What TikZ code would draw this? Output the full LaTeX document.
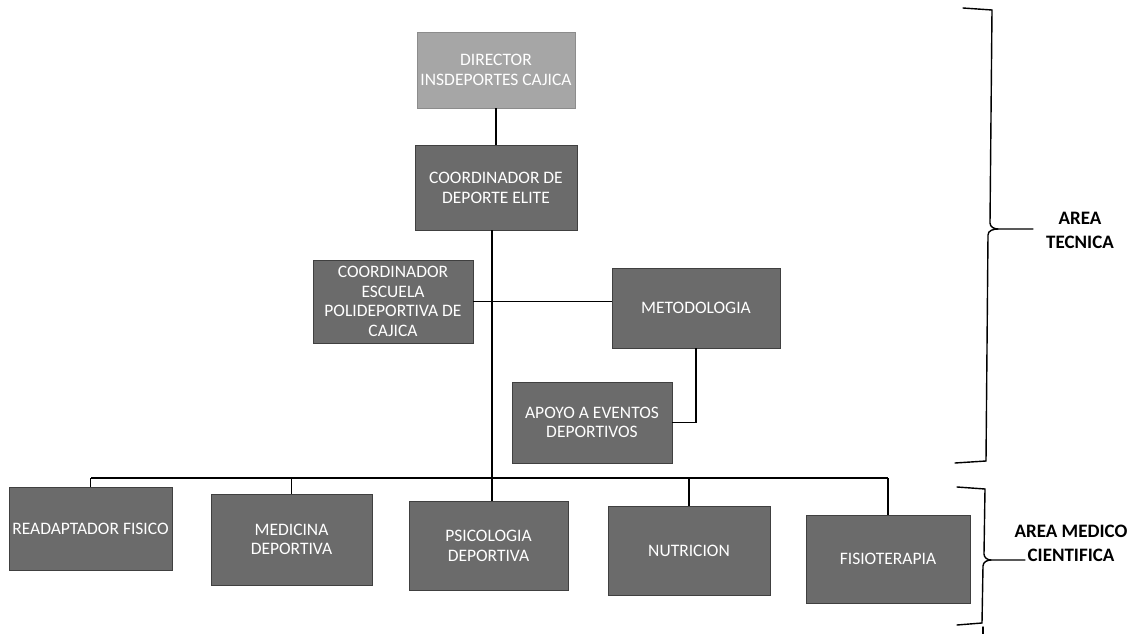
\documentclass[tikz,border=0pt]{standalone}
\usepackage{fontspec}
\setmainfont{Carlito}
\begin{document}
\begin{tikzpicture}[x=1pt,y=-1pt,
  box/.style={draw=black!75,line width=0.8pt,fill=black!58,text=white,align=center,inner sep=1pt,
    font=\fontsize{17.5}{19.5}\selectfont},
  lightbox/.style={box,fill=black!35,draw=black!45},
  conn/.style={draw=black,line width=1.2pt},
  brace/.style={draw=black,line width=1.4pt,line cap=round},
  lbl/.style={font=\bfseries\fontsize{19}{24}\selectfont,align=center,text=black}]
\useasboundingbox[fill=white] (0,0) rectangle (1144,634);

\node[lightbox,minimum width=158pt,minimum height=76pt] (dir) at (496,70) {DIRECTOR\\INSDEPORTES CAJICA};
\node[box,minimum width=162pt,minimum height=85pt] (coord) at (496,188) {COORDINADOR DE\\DEPORTE ELITE};
\node[box,minimum width=160pt,minimum height=83pt] (esc) at (393,301.5) {COORDINADOR\\ESCUELA\\POLIDEPORTIVA DE\\CAJICA};
\node[box,minimum width=168pt,minimum height=80pt] (met) at (696,308) {METODOLOGIA};
\node[box,minimum width=160pt,minimum height=81pt] (apo) at (592,422.5) {APOYO A EVENTOS\\DEPORTIVOS};
\node[box,minimum width=163pt,minimum height=83pt] (rea) at (90.5,528.5) {READAPTADOR FISICO};
\node[box,minimum width=161pt,minimum height=91pt] (med) at (291.5,539.5) {MEDICINA\\DEPORTIVA};
\node[box,minimum width=159pt,minimum height=89pt] (psi) at (488.5,546) {PSICOLOGIA\\DEPORTIVA};
\node[box,minimum width=162pt,minimum height=89pt] (nut) at (689,550.5) {NUTRICION};
\node[box,minimum width=164pt,minimum height=88pt] (fis) at (888,559) {FISIOTERAPIA};

\coordinate (trunk) at (492,230);
\coordinate (busL) at (91,478);
\coordinate (busR) at (888,478);

\draw[conn] (dir) -- (coord);
\draw[conn] (trunk) -- (psi.north -| trunk);
\draw[conn] (esc.east) -- (esc.east -| met.west);
\draw[conn] (met.south) |- (apo.east);
\draw[conn] (busL) -- (busR);
\draw[conn] (rea.north) -- (rea.north |- busL);
\draw[conn] (med.north) -- (med.north |- busL);
\draw[conn] (nut.north) -- (nut.north |- busL);
\draw[conn] (fis.north) -- (fis.north |- busL);

% brace AREA TECNICA
\coordinate (t1) at (963,8);
\coordinate (t2) at (992,10);
\coordinate (tt) at (1033,229);
\coordinate (t3) at (986,461);
\coordinate (t4) at (955,463);
\draw[brace] (t1) -- (t2) -- (990,223) to[out=-90,in=180] (998,229) -- (tt);
\draw[brace] (998,229) to[out=180,in=90] (988,235) -- (t3) -- (t4);
\node[lbl] (tec) at (1080,230) {AREA\\TECNICA};

% brace AREA MEDICO CIENTIFICA
\coordinate (m1) at (957,487);
\coordinate (m2) at (985,489);
\coordinate (mt) at (1025,560);
\coordinate (m3) at (982,623);
\coordinate (m4) at (957,625);
\draw[brace] (m1) -- (m2) -- (984,554) to[out=-90,in=180] (991,560) -- (mt);
\draw[brace] (991,560) to[out=180,in=90] (983,566) -- (m3) -- (m4);
\draw[brace] (983,627) -- (983,634);
\node[lbl] (medc) at (1071,543) {AREA MEDICO\\CIENTIFICA};
\end{tikzpicture}
\end{document}
